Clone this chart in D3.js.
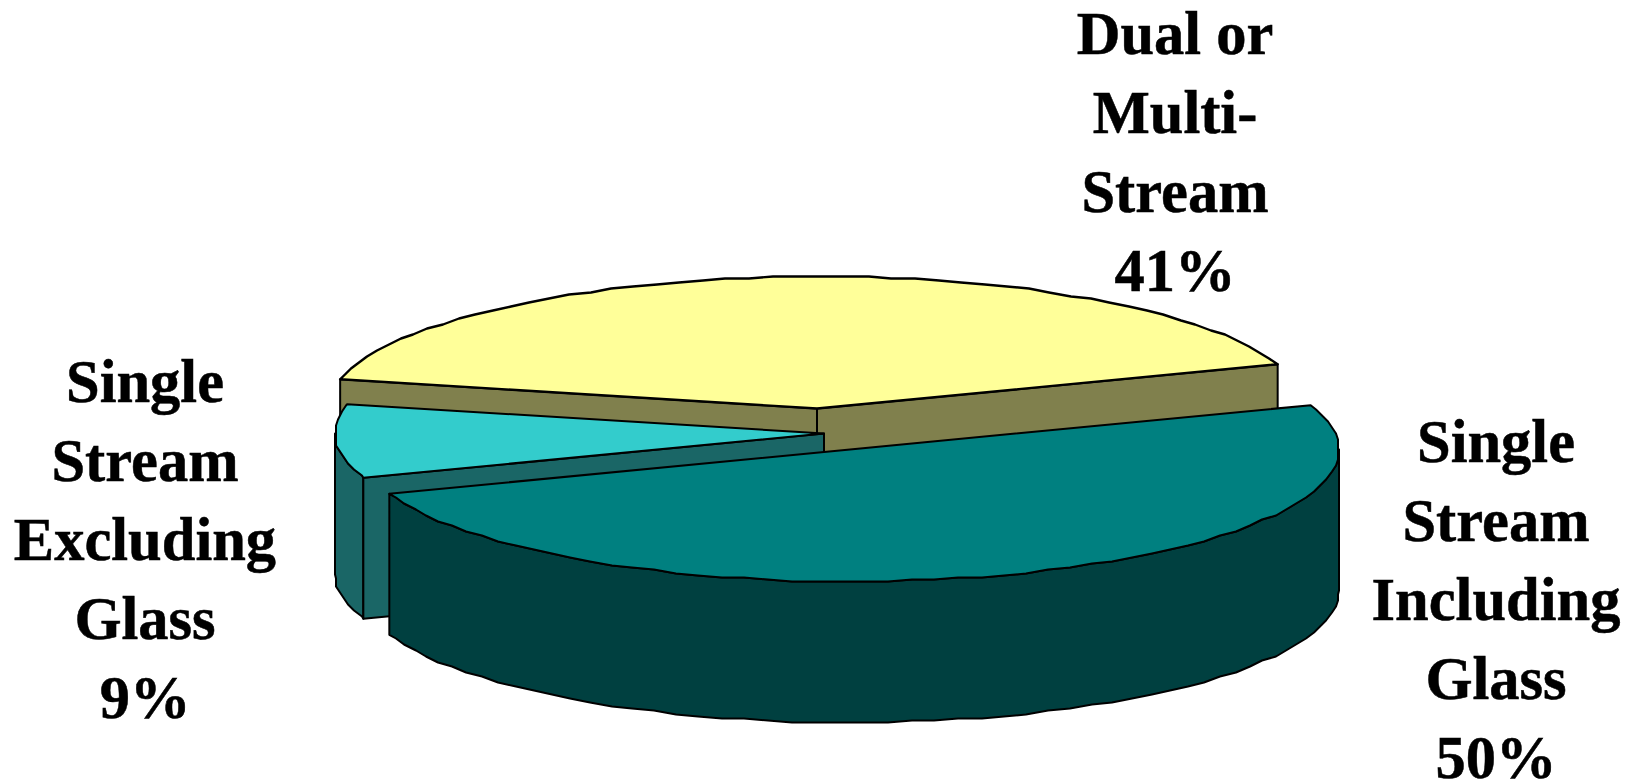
<!DOCTYPE html>
<html>
<head>
<meta charset="utf-8">
<script src="https://cdn.jsdelivr.net/npm/d3@7"></script>
<style>html,body{margin:0;padding:0;background:#fff}svg{display:block}</style>
</head>
<body>
<svg id="c" width="1637" height="784"></svg>
<script>
const categories = ["Dual or Multi-Stream", "Single Stream Excluding Glass", "Single Stream Including Glass"];
const values = [41, 9, 50];
const labelLines = [
  ["Dual or", "Multi-", "Stream", "41%"],
  ["Single", "Stream", "Excluding", "Glass", "9%"],
  ["Single", "Stream", "Including", "Glass", "50%"]
];
const topColors = ["#FFFF99", "#33CCCC", "#008080"];
const wallColors = ["#80804D", "#1A6666", "#004040"];

// layout
const rx = 489, ry = 132, depth = 141;
const centres = [[817, 408.5], [824, 433.5], [850, 449.5]];
const labelPos = [[1175, 54], [145, 402], [1496, 462]];
const lineStep = 79.1;
const startAngle = 19.6 * Math.PI / 180;
const grid = 2;                           // the original's outline is a slightly stepped polygon
const step = 2.8 * Math.PI / 180;

const svg = d3.select("#c");
const slices = d3.pie().sort(null).startAngle(startAngle).endAngle(startAngle + 2 * Math.PI)(values);
const line = d3.line();
const unitX = d3.scaleLinear().domain([-1, 1]);
const unitY = d3.scaleLinear().domain([-1, 1]);

function project(i, a, z, snap) {
  const [cx, cy] = centres[i];
  unitX.range([cx - rx, cx + rx]);
  unitY.range([cy + ry, cy - ry]);
  let x = unitX(Math.cos(a)), y = unitY(Math.sin(a));
  if (snap) {
    x = cx + Math.round((x - cx) / grid) * grid;
    y = cy + Math.round((y - cy) / grid) * grid;
  }
  return [x, y + (z || 0)];
}
// samples sit on one shared angular grid so that rim and top edges coincide
function arcPts(i, a0, a1, z) {
  const inner = d3.range(Math.ceil(a0 / step + 0.01), Math.floor(a1 / step - 0.01) + 1)
    .map(k => project(i, k * step, z, true));
  return [project(i, a0, z), ...inner, project(i, a1, z)];
}
function poly(pts, fill, sw) {
  svg.append("path").attr("d", line(pts) + "Z")
    .attr("fill", fill).attr("stroke", "#000")
    .attr("stroke-width", sw || 2).attr("stroke-linejoin", "round");
}
function drawWall(i, a) {
  const c = centres[i], e = project(i, a);
  poly([c, e, [e[0], e[1] + depth], [c[0], c[1] + depth]], wallColors[i]);
}
function drawRim(i, a0, a1) {
  poly(arcPts(i, a0, a1).concat(arcPts(i, a0, a1, depth).reverse()), wallColors[i]);
}
function drawTop(i, s, sw) {
  poly([centres[i]].concat(arcPts(i, s.startAngle, s.endAngle)), topColors[i], sw);
}

// Dual or Multi-Stream (back slice)
drawWall(0, slices[0].endAngle);
drawWall(0, slices[0].startAngle);
drawTop(0, slices[0], 2.4);

// Single Stream Excluding Glass
drawRim(1, Math.PI, slices[1].endAngle);
drawWall(1, slices[1].endAngle);
drawTop(1, slices[1]);

// Single Stream Including Glass (front slice)
drawRim(2, slices[2].startAngle, 2 * Math.PI);
drawTop(2, slices[2]);

labelLines.forEach((lines, i) => {
  const t = svg.append("text")
    .attr("text-anchor", "middle")
    .attr("font-family", "'Liberation Serif','Times New Roman',serif")
    .attr("font-weight", "bold").attr("font-size", 60.5).attr("fill", "#000")
    .attr("stroke", "#000").attr("stroke-width", 0.5);
  lines.forEach((s, k) => {
    t.append("tspan").attr("x", labelPos[i][0]).attr("y", labelPos[i][1] + k * lineStep).text(s);
  });
});
</script>
</body>
</html>
